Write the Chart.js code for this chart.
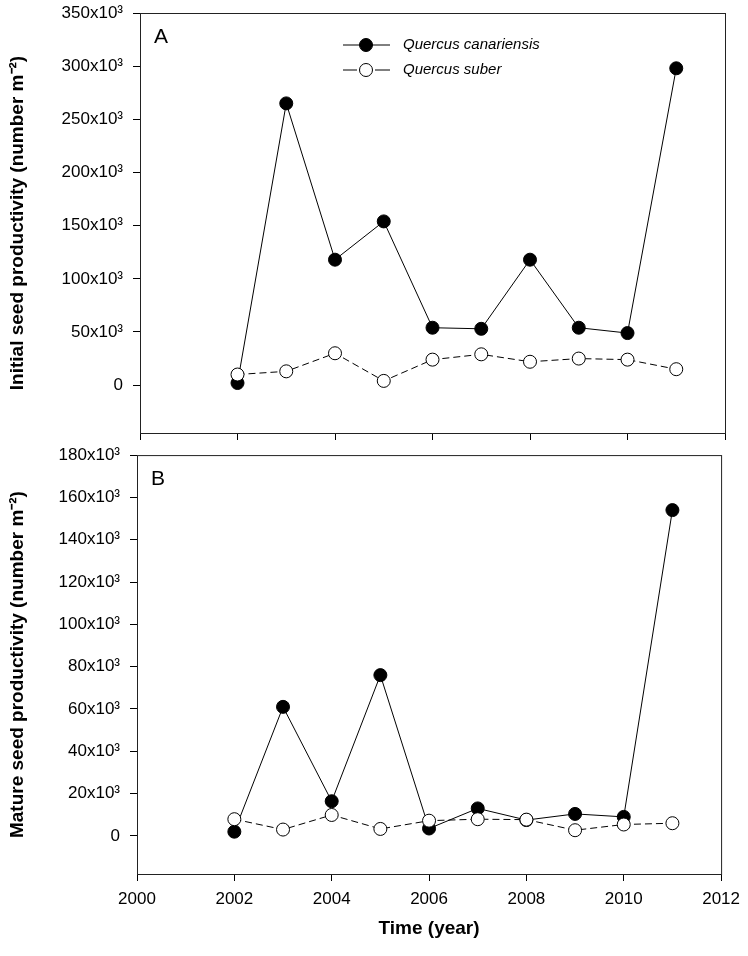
<!DOCTYPE html>
<html>
<head>
<meta charset="utf-8">
<script src="https://cdn.jsdelivr.net/npm/chart.js"></script>
<style>
  body { margin: 0; background: #fff; }
  #wrap { position: relative; width: 748px; height: 956px; }
  canvas { position: absolute; left: 0; }
  #panelA { top: 0; }
  #panelB { top: 445px; }
</style>
</head>
<body>
<div id="wrap">
  <canvas id="panelA" width="748" height="445"></canvas>
  <canvas id="panelB" width="748" height="511"></canvas>
</div>
<script>
// datos
const years = [2002, 2003, 2004, 2005, 2006, 2007, 2008, 2009, 2010, 2011];
const seriesNames = ["Quercus canariensis", "Quercus suber"];
const initialCanariensis = [2000, 265000, 118000, 154000, 54000, 53000, 118000, 54000, 49000, 298000];
const initialSuber = [10000, 13000, 30000, 4000, 24000, 29000, 22000, 25000, 24000, 15000];
const matureCanariensis = [2000, 61000, 16400, 76000, 3500, 13000, 7500, 10400, 9000, 154000];
const matureSuber = [7900, 3000, 9900, 3300, 7200, 7900, 7700, 2700, 5400, 6000];
const ticksInitial = [0, 50000, 100000, 150000, 200000, 250000, 300000, 350000];
const ticksMature = [0, 20000, 40000, 60000, 80000, 100000, 120000, 140000, 160000, 180000];
const ticksYear = [2000, 2002, 2004, 2006, 2008, 2010, 2012];

const FONT = "'Liberation Sans', Arial, sans-serif";

function toPoints(vals) {
  return years.map((y, i) => ({ x: y, y: vals[i] }));
}

function formatTick(v) {
  return v === 0 ? "0" : v / 1000 + "x10³";
}

// caja alrededor del area del grafico + letra del panel + leyenda
function panelPlugin(letter, withLegend) {
  return {
    id: "panel" + letter,
    beforeDatasetsDraw(chart) {
      const { ctx, chartArea: a } = chart;
      ctx.save();
      ctx.strokeStyle = "#222";
      ctx.lineWidth = 1;
      ctx.strokeRect(a.left + 0.5, a.top + 0.5, a.right - a.left, a.bottom - a.top);
      ctx.restore();
    },
    afterDraw(chart) {
      const { ctx, chartArea: a } = chart;
      ctx.save();
      ctx.fillStyle = "#000";
      ctx.font = "21px " + FONT;
      ctx.textBaseline = "middle";
      ctx.fillText(letter, a.left + 14, a.top + 24);
      if (withLegend) {
        const rows = [
          { name: seriesNames[0], fill: "#000", dash: false, y: 45 },
          { name: seriesNames[1], fill: "#fff", dash: true, y: 70 },
        ];
        rows.forEach((r) => {
          ctx.strokeStyle = "#000";
          ctx.lineWidth = 1;
          ctx.beginPath();
          if (r.dash) {
            ctx.moveTo(343, r.y); ctx.lineTo(357, r.y);
            ctx.moveTo(375, r.y); ctx.lineTo(390, r.y);
          } else {
            ctx.moveTo(343, r.y); ctx.lineTo(390, r.y);
          }
          ctx.stroke();
          ctx.beginPath();
          ctx.arc(366, r.y, 6.5, 0, Math.PI * 2);
          ctx.fillStyle = r.fill;
          ctx.fill();
          ctx.stroke();
          ctx.fillStyle = "#000";
          ctx.font = "italic 15px " + FONT;
          ctx.fillText(r.name, 403, r.y);
        });
      }
      ctx.restore();
    },
  };
}

function makeDatasets(canVals, subVals) {
  return [
    {
      label: seriesNames[1],
      data: toPoints(subVals),
      borderColor: "#000",
      borderWidth: 1,
      borderDash: [7, 4],
      pointBackgroundColor: "#fff",
      pointBorderColor: "#000",
      pointBorderWidth: 1,
      pointRadius: 6.5,
      order: 0,
    },
    {
      label: seriesNames[0],
      data: toPoints(canVals),
      borderColor: "#000",
      borderWidth: 1,
      pointBackgroundColor: "#000",
      pointBorderColor: "#000",
      pointBorderWidth: 1,
      pointRadius: 6.5,
      order: 1,
    },
  ];
}

function crearPanel(id, opts) {
  new Chart(document.getElementById(id), {
    type: "line",
    data: { datasets: makeDatasets(opts.can, opts.sub) },
    options: {
      responsive: false,
      animation: false,
      layout: { padding: opts.padding },
      plugins: { legend: { display: false }, tooltip: { enabled: false } },
      elements: { line: { tension: 0 } },
      scales: {
        x: {
          type: "linear",
          min: 2000,
          max: 2012,
          afterBuildTicks: (axis) => { axis.ticks = ticksYear.map((v) => ({ value: v })); },
          afterFit: (axis) => { axis.height = opts.xHeight; },
          border: { display: false },
          grid: { drawOnChartArea: false, drawTicks: true, tickLength: 7, color: "#000" },
          ticks: {
            display: opts.showX,
            padding: 8,
            color: "#000",
            font: { family: FONT, size: 17 },
            callback: (v) => String(v),
          },
          title: {
            display: opts.showX,
            text: "Time (year)",
            color: "#000",
            font: { family: FONT, size: 19, weight: "bold" },
            padding: { top: 4, bottom: 4 },
          },
        },
        y: {
          min: opts.yMin,
          max: opts.yMax,
          afterBuildTicks: (axis) => { axis.ticks = opts.yTicks.map((v) => ({ value: v })); },
          afterFit: (axis) => { axis.width = opts.yWidth; },
          border: { display: false },
          grid: { drawOnChartArea: false, drawTicks: true, tickLength: 7, color: "#000" },
          ticks: {
            padding: 10,
            color: "#000",
            // lineHeight pequeño para que las etiquetas no empujen el area
            font: { family: FONT, size: 17, lineHeight: 0.01 },
            callback: formatTick,
          },
          title: {
            display: true,
            text: opts.yTitle,
            color: "#000",
            font: { family: FONT, size: 19, weight: "bold" },
            padding: { top: 6, bottom: 0 },
          },
        },
      },
    },
    plugins: [panelPlugin(opts.letter, opts.legend)],
  });
}

crearPanel("panelA", {
  can: initialCanariensis,
  sub: initialSuber,
  yMin: -45000,
  yMax: 350000,
  yTicks: ticksInitial,
  yTitle: "Initial seed productivity (number m⁻²)",
  yWidth: 140,
  xHeight: 12,
  showX: false,
  padding: { top: 13, right: 23, bottom: 0, left: 0 },
  letter: "A",
  legend: true,
});

crearPanel("panelB", {
  can: matureCanariensis,
  sub: matureSuber,
  yMin: -18000,
  yMax: 180000,
  yTicks: ticksMature,
  yTitle: "Mature seed productivity (number m⁻²)",
  yWidth: 137,
  xHeight: 70,
  showX: true,
  padding: { top: 9, right: 25, bottom: 12, left: 0 },
  letter: "B",
  legend: false,
});
</script>
</body>
</html>
